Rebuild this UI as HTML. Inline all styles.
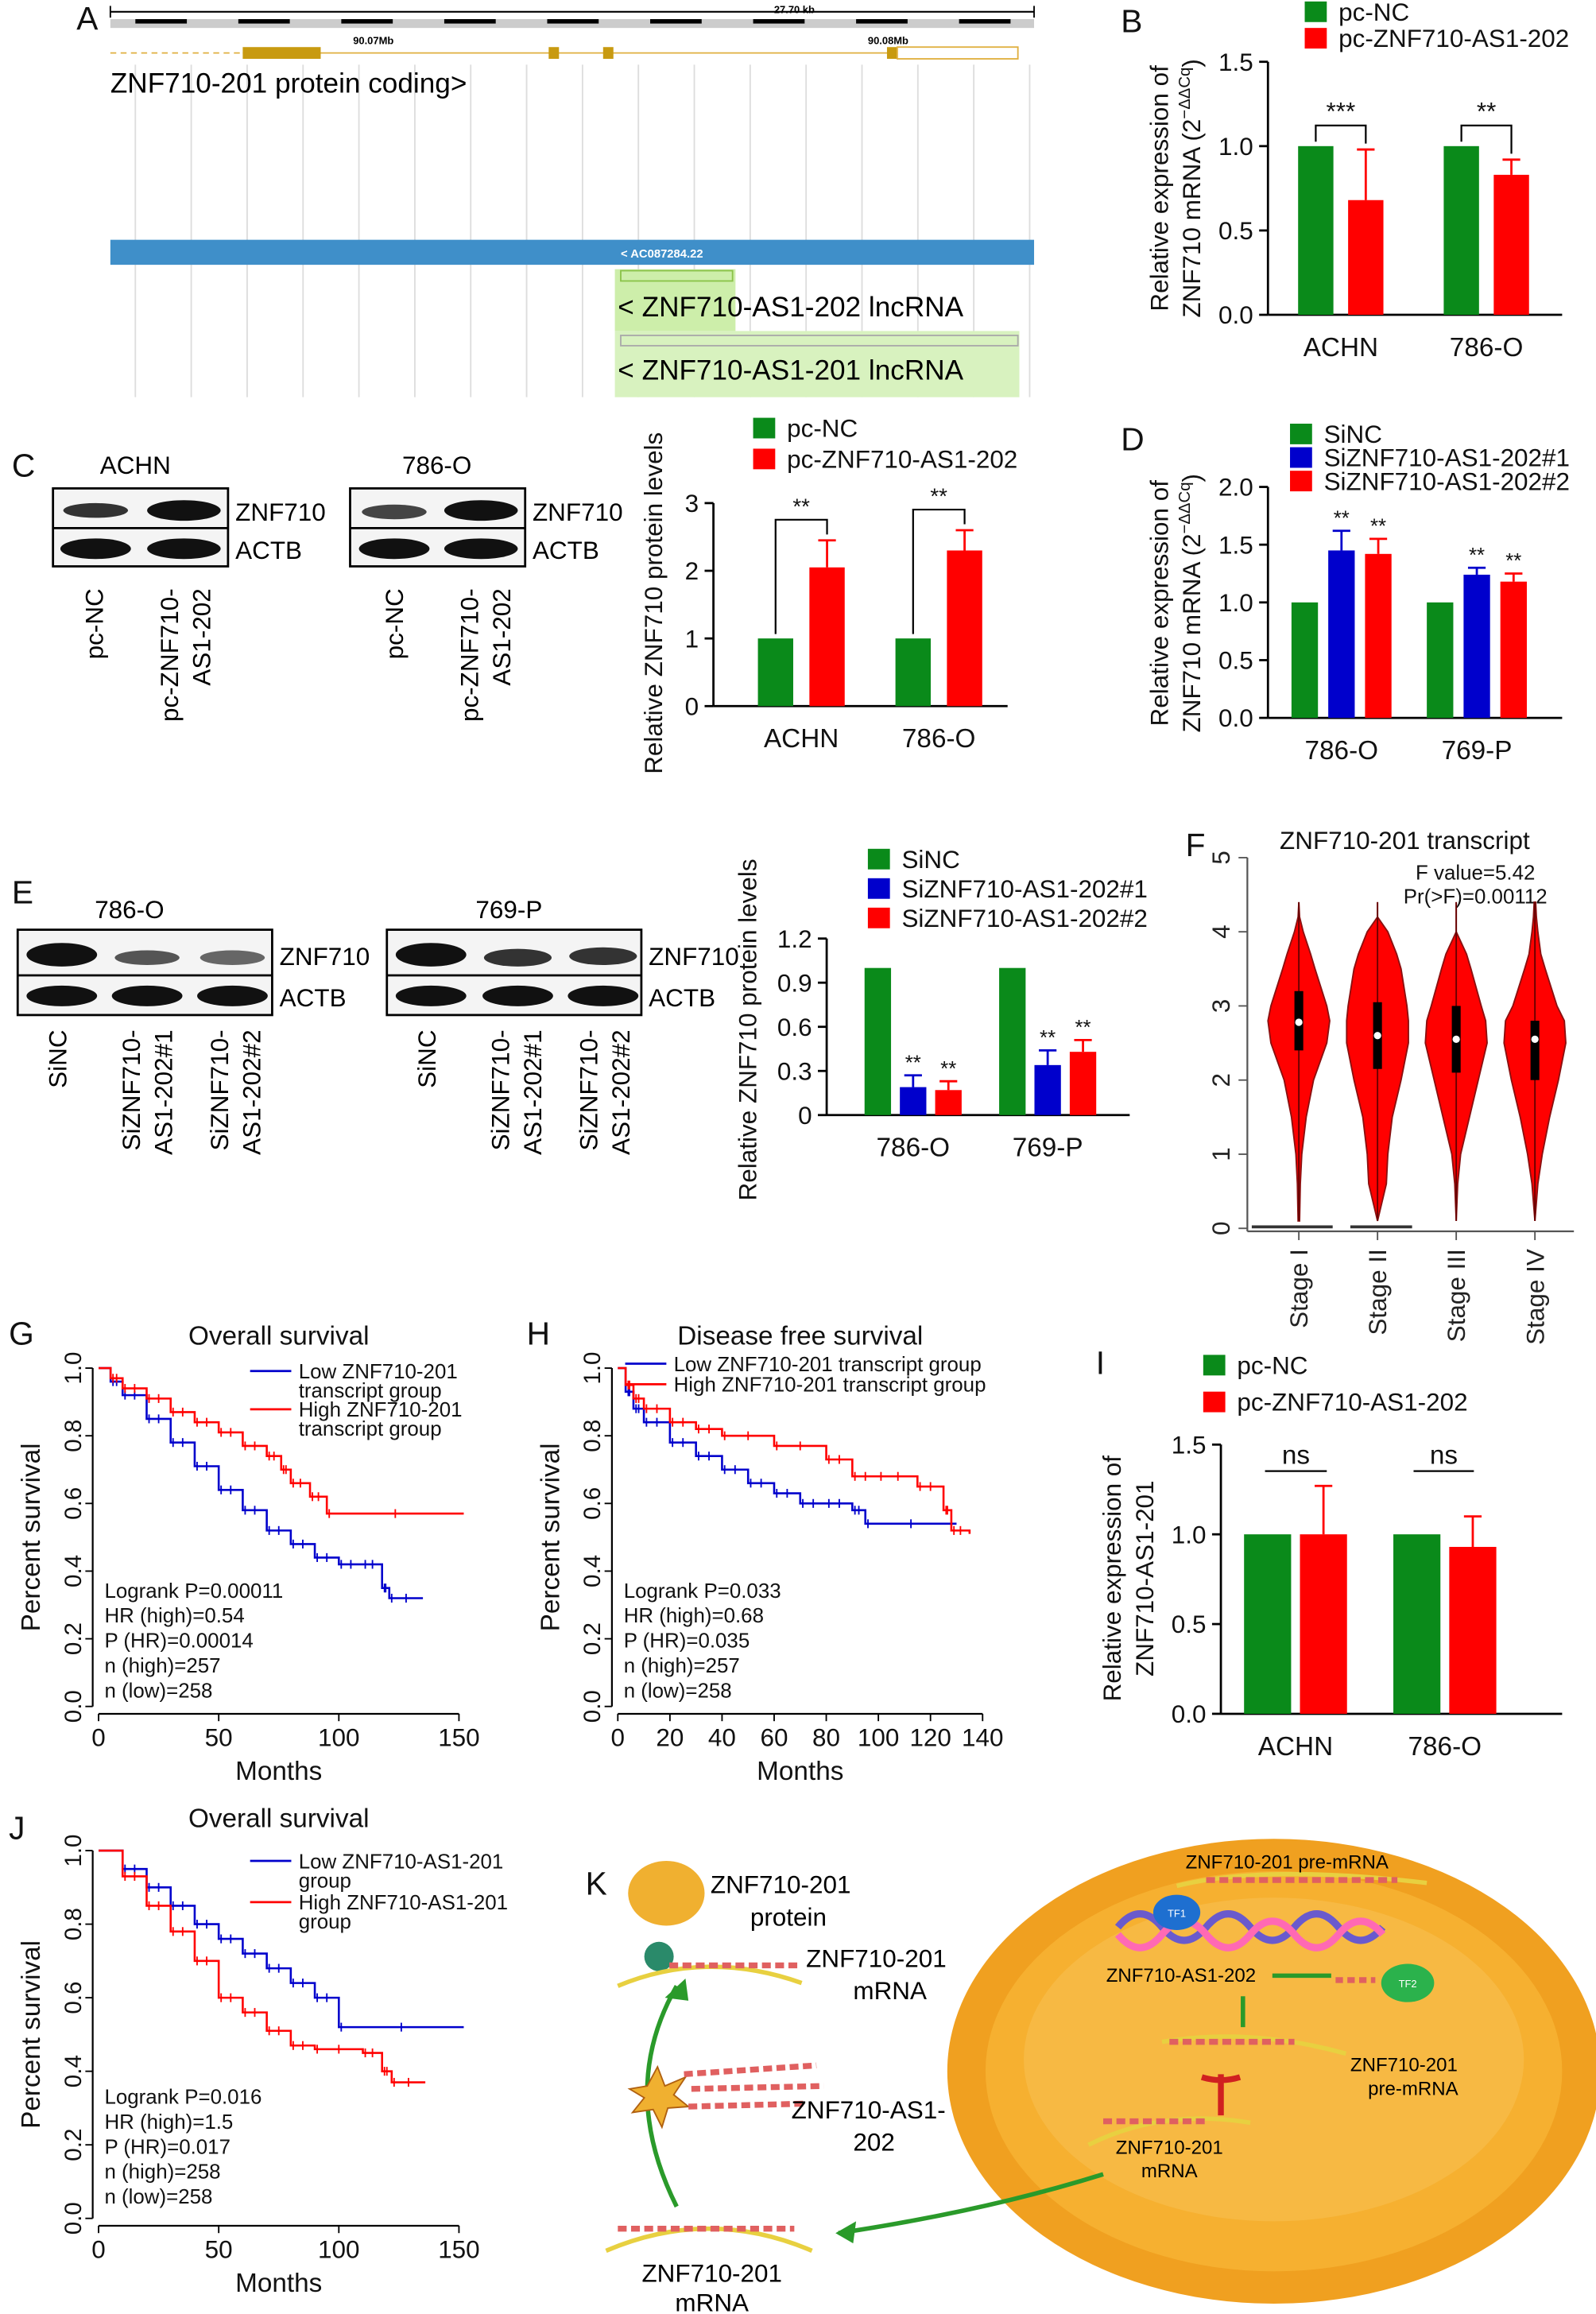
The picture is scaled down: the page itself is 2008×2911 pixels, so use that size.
<!DOCTYPE html>
<html><head><meta charset="utf-8">
<style>
html,body{margin:0;padding:0;background:#fff;}
svg{display:block;font-family:"Liberation Sans",Arial,sans-serif;}
</style></head>
<body>
<svg id="fig" xmlns="http://www.w3.org/2000/svg" width="2008" height="2911" viewBox="0 0 1085 1573">
<rect width="1085" height="1573" fill="#fff"/>
<g font-size="22" fill="#111">
<text x="52" y="20">A</text><text x="762" y="22">B</text><text x="8" y="324">C</text>
<text x="762" y="306">D</text><text x="8" y="614">E</text><text x="806" y="582">F</text>
<text x="6" y="914">G</text><text x="358" y="914">H</text><text x="745" y="934">I</text>
<text x="6" y="1250">J</text><text x="398" y="1288">K</text>
</g>

<g id="panelA">
<line x1="75" y1="8" x2="703" y2="8" stroke="#000" stroke-width="1.2"/>
<line x1="75" y1="4" x2="75" y2="12" stroke="#000"/><line x1="703" y1="4" x2="703" y2="12" stroke="#000"/>
<text x="540" y="9" font-size="7" text-anchor="middle" font-weight="bold">27.70 kb</text>
<rect x="75" y="13" width="628" height="6" fill="#ccc"/>
<g id="rulerSegs"></g>
<text x="240" y="30" font-size="7" font-weight="bold">90.07Mb</text>
<text x="590" y="30" font-size="7" font-weight="bold">90.08Mb</text>
<g id="gridA"></g>
<line x1="75" y1="36" x2="165" y2="36" stroke="#e0b040" stroke-dasharray="4,3"/>
<line x1="165" y1="36" x2="690" y2="36" stroke="#e0b040"/>
<rect x="165" y="32" width="53" height="8" fill="#c89a10"/>
<rect x="373" y="32" width="7" height="8" fill="#c89a10"/>
<rect x="410" y="32" width="7" height="8" fill="#c89a10"/>
<rect x="603" y="32" width="7" height="8" fill="#c89a10"/>
<rect x="610" y="32" width="82" height="8" fill="#fff" stroke="#e0b040"/>
<text x="75" y="63" font-size="19">ZNF710-201 protein coding&gt;</text>
<rect x="75" y="163" width="628" height="17" fill="#3f8fc9"/>
<text x="450" y="175" font-size="8" fill="#fff" text-anchor="middle" font-weight="bold">&lt; AC087284.22</text>
<rect x="418" y="183" width="82" height="42" fill="#cdeeaa"/>
<rect x="418" y="225" width="275" height="45" fill="#d8f2bf"/>
<rect x="422" y="184" width="76" height="7" fill="none" stroke="#8bc34a"/>
<rect x="422" y="228" width="270" height="7" fill="none" stroke="#aaa"/>
<text x="420" y="215" font-size="19">&lt; ZNF710-AS1-202 lncRNA</text>
<text x="420" y="258" font-size="19">&lt; ZNF710-AS1-201 lncRNA</text>
</g>

<g id="blotC" font-size="17">
<text x="92" y="322" text-anchor="middle">ACHN</text>
<text x="297" y="322" text-anchor="middle">786-O</text>
<rect x="36" y="332" width="119" height="53" fill="#f4f4f4" stroke="#000" stroke-width="1.5"/>
<line x1="36" y1="359" x2="155" y2="359" stroke="#000" stroke-width="1.5"/>
<rect x="238" y="332" width="119" height="53" fill="#f4f4f4" stroke="#000" stroke-width="1.5"/>
<line x1="238" y1="359" x2="357" y2="359" stroke="#000" stroke-width="1.5"/>
<ellipse cx="65" cy="347" rx="22" ry="5" fill="#333"/><ellipse cx="125" cy="347" rx="25" ry="7" fill="#111"/>
<ellipse cx="65" cy="373" rx="24" ry="7" fill="#111"/><ellipse cx="125" cy="373" rx="25" ry="7" fill="#111"/>
<ellipse cx="268" cy="348" rx="22" ry="5" fill="#444"/><ellipse cx="327" cy="347" rx="25" ry="7" fill="#111"/>
<ellipse cx="268" cy="373" rx="24" ry="7" fill="#111"/><ellipse cx="327" cy="373" rx="25" ry="7" fill="#111"/>
<text x="160" y="354">ZNF710</text><text x="160" y="380">ACTB</text>
<text x="362" y="354">ZNF710</text><text x="362" y="380">ACTB</text>
<text transform="translate(70,400) rotate(-90)" text-anchor="end">pc-NC</text>
<text transform="translate(121,400) rotate(-90)" text-anchor="end">pc-ZNF710-</text>
<text transform="translate(143,400) rotate(-90)" text-anchor="end">AS1-202</text>
<text transform="translate(274,400) rotate(-90)" text-anchor="end">pc-NC</text>
<text transform="translate(325,400) rotate(-90)" text-anchor="end">pc-ZNF710-</text>
<text transform="translate(347,400) rotate(-90)" text-anchor="end">AS1-202</text>
</g>

<g id="blotE" font-size="17">
<text x="88" y="624" text-anchor="middle">786-O</text>
<text x="346" y="624" text-anchor="middle">769-P</text>
<rect x="12" y="632" width="173" height="58" fill="#f4f4f4" stroke="#000" stroke-width="1.5"/>
<line x1="12" y1="663" x2="185" y2="663" stroke="#000" stroke-width="1.5"/>
<rect x="263" y="632" width="173" height="58" fill="#f4f4f4" stroke="#000" stroke-width="1.5"/>
<line x1="263" y1="663" x2="436" y2="663" stroke="#000" stroke-width="1.5"/>
<ellipse cx="42" cy="649" rx="24" ry="8" fill="#111"/><ellipse cx="100" cy="651" rx="22" ry="5" fill="#555"/><ellipse cx="158" cy="651" rx="22" ry="5" fill="#666"/>
<ellipse cx="42" cy="677" rx="24" ry="7" fill="#111"/><ellipse cx="100" cy="677" rx="24" ry="7" fill="#111"/><ellipse cx="158" cy="677" rx="24" ry="7" fill="#111"/>
<ellipse cx="293" cy="649" rx="24" ry="8" fill="#111"/><ellipse cx="352" cy="651" rx="23" ry="6" fill="#333"/><ellipse cx="410" cy="650" rx="23" ry="6" fill="#333"/>
<ellipse cx="293" cy="677" rx="24" ry="7" fill="#111"/><ellipse cx="352" cy="677" rx="24" ry="7" fill="#111"/><ellipse cx="410" cy="677" rx="24" ry="7" fill="#111"/>
<text x="190" y="656">ZNF710</text><text x="190" y="684">ACTB</text>
<text x="441" y="656">ZNF710</text><text x="441" y="684">ACTB</text>
<text transform="translate(45,700) rotate(-90)" text-anchor="end">SiNC</text>
<text transform="translate(95,700) rotate(-90)" text-anchor="end">SiZNF710-</text>
<text transform="translate(117,700) rotate(-90)" text-anchor="end">AS1-202#1</text>
<text transform="translate(155,700) rotate(-90)" text-anchor="end">SiZNF710-</text>
<text transform="translate(177,700) rotate(-90)" text-anchor="end">AS1-202#2</text>
<text transform="translate(296,700) rotate(-90)" text-anchor="end">SiNC</text>
<text transform="translate(346,700) rotate(-90)" text-anchor="end">SiZNF710-</text>
<text transform="translate(368,700) rotate(-90)" text-anchor="end">AS1-202#1</text>
<text transform="translate(406,700) rotate(-90)" text-anchor="end">SiZNF710-</text>
<text transform="translate(428,700) rotate(-90)" text-anchor="end">AS1-202#2</text>
</g>

<g id="panelK">
<ellipse cx="866" cy="1408" rx="222" ry="158" fill="#f0a020"/>
<ellipse cx="866" cy="1408" rx="196" ry="136" fill="#f6b030"/>
<ellipse cx="866" cy="1400" rx="170" ry="110" fill="#f8c050" opacity="0.6"/>
<path d="M760,1310 q15,-18 30,0 t30,0 t30,0 t30,0 t30,0 t30,0" fill="none" stroke="#6a5acd" stroke-width="5"/>
<path d="M760,1315 q15,18 30,0 t30,0 t30,0 t30,0 t30,0 t30,0" fill="none" stroke="#ff69b4" stroke-width="5"/>
<ellipse cx="800" cy="1300" rx="16" ry="12" fill="#1e6fd0"/>
<ellipse cx="957" cy="1348" rx="18" ry="13" fill="#2bb24c"/>
<text x="800" y="1303" font-size="7" fill="#fff" text-anchor="middle">TF1</text>
<text x="957" y="1351" font-size="7" fill="#fff" text-anchor="middle">TF2</text>
<path d="M800,1282 q60,-15 170,-2" fill="none" stroke="#e8d040" stroke-width="3"/>
<line x1="820" y1="1278" x2="950" y2="1278" stroke="#e06060" stroke-width="4" stroke-dasharray="6,3"/>
<text x="806" y="1270" font-size="13">ZNF710-201 pre-mRNA</text>
<text x="752" y="1347" font-size="13">ZNF710-AS1-202</text>
<line x1="865" y1="1343" x2="905" y2="1343" stroke="#2a9a2a" stroke-width="3"/>
<line x1="908" y1="1346" x2="935" y2="1346" stroke="#e06060" stroke-width="4" stroke-dasharray="5,3"/>
<line x1="845" y1="1357" x2="845" y2="1378" stroke="#2a9a2a" stroke-width="3"/>
<path d="M790,1388 q60,-10 125,8" fill="none" stroke="#e8d040" stroke-width="3"/>
<line x1="795" y1="1388" x2="880" y2="1388" stroke="#e06060" stroke-width="4" stroke-dasharray="6,3"/>
<text x="918" y="1408" font-size="13">ZNF710-201</text><text x="930" y="1424" font-size="13">pre-mRNA</text>
<path d="M830,1410 v28 M817,1412 q13,4 26,0" stroke="#d02020" stroke-width="4" fill="none"/>
<path d="M740,1458 q50,-25 110,-15" fill="none" stroke="#e8d040" stroke-width="3"/>
<line x1="750" y1="1442" x2="820" y2="1442" stroke="#e06060" stroke-width="4" stroke-dasharray="6,3"/>
<text x="795" y="1464" font-size="13" text-anchor="middle">ZNF710-201</text><text x="795" y="1480" font-size="13" text-anchor="middle">mRNA</text>
<path d="M750,1478 q-80,25 -180,40" fill="none" stroke="#2a9a2a" stroke-width="3"/>
<polygon points="568,1518 582,1510 580,1525" fill="#2a9a2a"/>
<path d="M412,1530 q70,-30 140,0" fill="none" stroke="#e8d040" stroke-width="3"/>
<line x1="420" y1="1515" x2="540" y2="1515" stroke="#e06060" stroke-width="4" stroke-dasharray="6,3"/>
<text x="484" y="1551" font-size="17" text-anchor="middle">ZNF710-201</text><text x="484" y="1571" font-size="17" text-anchor="middle">mRNA</text>
<path d="M460,1500 q-40,-80 0,-150" fill="none" stroke="#2a9a2a" stroke-width="3"/>
<polygon points="466,1345 452,1358 468,1360" fill="#2a9a2a"/>
<ellipse cx="453" cy="1287" rx="26" ry="22" fill="#f0b030"/>
<circle cx="448" cy="1330" r="10" fill="#2a8a6a"/>
<path d="M420,1350 q60,-25 125,-2" fill="none" stroke="#e8d040" stroke-width="3"/>
<line x1="455" y1="1336" x2="545" y2="1336" stroke="#e06060" stroke-width="4" stroke-dasharray="6,3"/>
<text x="483" y="1287" font-size="17">ZNF710-201</text><text x="510" y="1309" font-size="17">protein</text>
<text x="548" y="1337" font-size="17">ZNF710-201</text><text x="580" y="1359" font-size="17">mRNA</text>
<polygon points="440,1418 447,1405 452,1418 466,1412 458,1424 468,1432 454,1433 450,1446 444,1434 430,1436 438,1426 428,1420" fill="#f0b030" stroke="#b06010"/>
<g stroke-width="4" stroke-dasharray="6,3" stroke="#e06060"><line x1="465" y1="1410" x2="555" y2="1404"/><line x1="470" y1="1420" x2="560" y2="1418"/><line x1="468" y1="1432" x2="548" y2="1430"/></g>
<text x="538" y="1440" font-size="17">ZNF710-AS1-</text><text x="580" y="1462" font-size="17">202</text>
</g>

<g id="charts"></g>
</svg>
<script>
const catsB = ["ACHN","786-O"];
const b_pcNC = [1.0, 1.0];
const b_pcAS = [0.68, 0.83];
const b_sdNC = [0, 0];
const b_sdAS = [0.30, 0.09];

const catsC = ["ACHN","786-O"];
const c_pcNC = [1.0, 1.0];
const c_pcAS = [2.05, 2.3];
const c_sdNC = [0, 0];
const c_sdAS = [0.40, 0.30];

const catsD = ["786-O","769-P"];
const d_siNC = [1.0, 1.0];
const d_si1 = [1.45, 1.24];
const d_si2 = [1.42, 1.18];
const d_sd1 = [0.17, 0.06];
const d_sd2 = [0.13, 0.07];

const catsE = ["786-O","769-P"];
const e_siNC = [1.0, 1.0];
const e_si1 = [0.19, 0.34];
const e_si2 = [0.17, 0.43];
const e_sd1 = [0.08, 0.10];
const e_sd2 = [0.06, 0.08];

const catsI = ["ACHN","786-O"];
const i_pcNC = [1.0, 1.0];
const i_pcAS = [1.0, 0.93];
const i_sdNC = [0, 0];
const i_sdAS = [0.27, 0.17];

const ticksB = [0,0.5,1.0,1.5];
const ticksC = [0,1,2,3];
const ticksD = [0,0.5,1.0,1.5,2.0];
const ticksE = [0,0.3,0.6,0.9,1.2];
const ticksI = [0,0.5,1.0,1.5];

const stagesF = ["Stage I","Stage II","Stage III","Stage IV"];
const violinLevels = [0.1,0.6,1.0,1.5,2.0,2.5,2.8,3.0,3.5,3.7,4.0,4.2,4.4];
const violinI   = [0.5,1,2,5,10,19,21,19,11,8,3,0.5,0];
const violinII  = [0,6,7,10,16,21,21,20,16,13,7,0,0];
const violinIII = [0,1,3,9,15,21,20,17,10,7,0,0,0];
const violinIV  = [0,2,5,10,16,21,20,15,7,4,2,1,0.5];
const medianF = [2.78, 2.6, 2.55, 2.55];
const q1F = [2.4, 2.15, 2.1, 2.0];
const q3F = [3.2, 3.05, 3.0, 2.8];
const ticksF = [0,1,2,3,4,5];

const g_lowT = [0,5,10,20,30,40,50,60,70,80,90,100,110,118,121,135];
const g_lowS = [1,0.96,0.92,0.85,0.78,0.71,0.64,0.58,0.52,0.48,0.44,0.42,0.42,0.35,0.32,0.32];
const g_highT = [0,5,10,20,30,40,50,60,70,76,80,88,95,152];
const g_highS = [1,0.97,0.94,0.91,0.87,0.84,0.81,0.77,0.74,0.70,0.66,0.62,0.57,0.57];
const h_lowT = [0,3,6,10,20,30,40,50,60,70,80,90,95,130];
const h_lowS = [1,0.93,0.88,0.84,0.78,0.74,0.70,0.66,0.63,0.60,0.60,0.58,0.54,0.54];
const h_highT = [0,3,6,10,20,30,40,60,80,90,100,115,125,128,135];
const h_highS = [1,0.95,0.91,0.88,0.84,0.82,0.80,0.77,0.73,0.68,0.68,0.65,0.58,0.52,0.51];
const j_lowT = [0,10,20,30,40,50,60,70,80,90,100,152];
const j_lowS = [1,0.95,0.90,0.85,0.80,0.76,0.72,0.68,0.64,0.60,0.52,0.52];
const j_highT = [0,10,20,30,40,50,60,70,80,90,110,118,122,136];
const j_highS = [1,0.93,0.85,0.78,0.70,0.60,0.56,0.51,0.47,0.46,0.45,0.40,0.37,0.37];

const GREEN="#0a8a1a", RED="#ff0000", BLUE="#0000cc";
const NS="http://www.w3.org/2000/svg";
const root=document.getElementById('charts');
function mk(tag, attrs, parent){const e=document.createElementNS(NS,tag);for(const k in attrs)e.setAttribute(k,attrs[k]);(parent||root).appendChild(e);return e;}
function txt(x,y,s,size,anchor,parent,extra){const t=mk('text',Object.assign({x:x,y:y,'font-size':size,'text-anchor':anchor||'start',fill:'#111'},extra||{}),parent);t.textContent=s;return t;}

(function(){
  const rs=document.getElementById('rulerSegs');
  for(let i=0;i<9;i++){mk('rect',{x:92+i*70,y:13,width:35,height:3,fill:'#000'},rs);}
  const g=document.getElementById('gridA');
  for(let i=0;i<17;i++){mk('line',{x1:92+i*38,y1:44,x2:92+i*38,y2:270,stroke:'#ddd','stroke-width':1},g);}
})();

function barChart(o){
  const g=mk('g',{});
  
  
  const ys=v=>o.yb-(v-o.ymin)/(o.ymax-o.ymin)*(o.yb-o.yt);
  const n=o.cats.length;
  const cx=i=>o.x0+(i+0.5)*(o.x1-o.x0)/n;
  mk('line',{x1:o.ax,y1:ys(o.ticks[0]),x2:o.ax,y2:ys(o.ticks[o.ticks.length-1]),stroke:'#000','stroke-width':1.5},g);
  mk('line',{x1:o.ax,y1:o.yb,x2:o.axEnd,y2:o.yb,stroke:'#000','stroke-width':1.5},g);
  o.ticks.forEach((t,k)=>{
    mk('line',{x1:o.ax-6,y1:ys(t),x2:o.ax,y2:ys(t),stroke:'#000','stroke-width':1.5},g);
    const lab=txt(o.ax-10,ys(t)+6,o.tickLabels[k],17,'end',g);
    
    
  });
  const ns=o.series.length;
  o.cats.forEach((c,i)=>{
    const l=txt(cx(i),o.yb+28,c,18,'middle',g);
    
    
    o.series.forEach((s,j)=>{
      const xc=cx(i)+(j-(ns-1)/2)*o.step;
      const v=s.vals[i];
      const r=mk('rect',{x:xc-o.bw/2,y:ys(v),width:o.bw,height:o.yb-ys(v),fill:s.color},g);
      
      
      if(s.sd && s.sd[i]>0){
        const top=ys(v+s.sd[i]);
        mk('line',{x1:xc,y1:ys(v),x2:xc,y2:top,stroke:s.color,'stroke-width':1.5},g);
        mk('line',{x1:xc-6,y1:top,x2:xc+6,y2:top,stroke:s.color,'stroke-width':1.5},g);
      }
      if(s.star){txt(xc,ys(v+(s.sd?s.sd[i]:0))-4,s.star,14,'middle',g);}
    });
    if(o.bracket){
      const xa=cx(i)-o.step/2, xb=cx(i)+o.step/2;
      const top=Math.min(ys(o.series[0].vals[i]),ys(o.series[1].vals[i]+(o.series[1].sd?o.series[1].sd[i]:0)))-o.bracketGap;
      mk('path',{d:`M${xa},${ys(o.series[0].vals[i])-3} V${top} H${xb} V${ys(o.series[1].vals[i]+o.series[1].sd[i])-4}`,fill:'none',stroke:'#000','stroke-width':1.2},g);
      txt((xa+xb)/2,top-4,o.bracket[i],o.bracketSize||17,'middle',g);
    }
  });
  o.legend.forEach((L,k)=>{
    const r=mk('rect',{x:o.lx,y:o.ly+k*o.lstep-13,width:15,height:14,fill:L[1]},g);
    
    
    const t=txt(o.lx+23,o.ly+k*o.lstep,L[0],17,'start',g);
    
    
  });
  o.ytitle.forEach((line,k)=>{
    const t=mk('text',{transform:`translate(${o.tx+k*22},${o.tcy}) rotate(-90)`,'font-size':17,'text-anchor':'middle',fill:'#111'},g);
    t.innerHTML=line;
    
    
  });
}

const ddcq='ZNF710 mRNA (2<tspan dy="-7" font-size="11">−ΔΔCq</tspan><tspan dy="7">)</tspan>';
barChart({name:'chart-b',cats:catsB,x0:862,x1:1060,ax:862,axEnd:1062,yb:214,yt:42,ymin:0,ymax:1.5,ticks:ticksB,tickLabels:ticksB.map(v=>v.toFixed(1)),
  bw:24,step:34,series:[{key:'pc-nc',vals:b_pcNC,sd:b_sdNC,color:GREEN},{key:'pc-as1-202',vals:b_pcAS,sd:b_sdAS,color:RED}],
  bracket:['***','**'],bracketGap:14,legend:[['pc-NC',GREEN],['pc-ZNF710-AS1-202',RED]],lx:887,ly:14,lstep:18,
  ytitle:['Relative expression of',ddcq],tx:794,tcy:128});
barChart({name:'chart-c',cats:catsC,x0:498,x1:685,ax:485,axEnd:685,yb:480,yt:342,ymin:0,ymax:3,ticks:ticksC,tickLabels:ticksC.map(String),
  bw:24,step:35,series:[{key:'pc-nc',vals:c_pcNC,sd:c_sdNC,color:GREEN},{key:'pc-as1-202',vals:c_pcAS,sd:c_sdAS,color:RED}],
  bracket:['**','**'],bracketGap:14,bracketSize:15,legend:[['pc-NC',GREEN],['pc-ZNF710-AS1-202',RED]],lx:512,ly:297,lstep:21,
  ytitle:['Relative ZNF710 protein levels'],tx:450,tcy:410});
barChart({name:'chart-d',cats:catsD,x0:866,x1:1050,ax:862,axEnd:1062,yb:488,yt:331,ymin:0,ymax:2,ticks:ticksD,tickLabels:ticksD.map(v=>v.toFixed(1)),
  bw:18,step:25,series:[{key:'sinc',vals:d_siNC,color:GREEN},{key:'si1',vals:d_si1,sd:d_sd1,color:BLUE,star:'**'},{key:'si2',vals:d_si2,sd:d_sd2,color:RED,star:'**'}],
  legend:[['SiNC',GREEN],['SiZNF710-AS1-202#1',BLUE],['SiZNF710-AS1-202#2',RED]],lx:877,ly:301,lstep:16,
  ytitle:['Relative expression of',ddcq],tx:794,tcy:410});
barChart({name:'chart-e',cats:catsE,x0:575,x1:758,ax:562,axEnd:768,yb:758,yt:638,ymin:0,ymax:1.2,ticks:ticksE,tickLabels:ticksE.map(v=>v===0?'0':v.toFixed(1)),
  bw:18,step:24,series:[{key:'sinc',vals:e_siNC,color:GREEN},{key:'si1',vals:e_si1,sd:e_sd1,color:BLUE,star:'**'},{key:'si2',vals:e_si2,sd:e_sd2,color:RED,star:'**'}],
  legend:[['SiNC',GREEN],['SiZNF710-AS1-202#1',BLUE],['SiZNF710-AS1-202#2',RED]],lx:590,ly:590,lstep:20,
  ytitle:['Relative ZNF710 protein levels'],tx:514,tcy:700});
barChart({name:'chart-i',cats:catsI,x0:830,x1:1033,ax:830,axEnd:1062,yb:1165,yt:982,ymin:0,ymax:1.5,ticks:ticksI,tickLabels:ticksI.map(v=>v.toFixed(1)),
  bw:32,step:38,series:[{key:'pc-nc',vals:i_pcNC,sd:i_sdNC,color:GREEN},{key:'pc-as1-202',vals:i_pcAS,sd:i_sdAS,color:RED}],
  legend:[['pc-NC',GREEN],['pc-ZNF710-AS1-202',RED]],lx:818,ly:934,lstep:25,
  ytitle:['Relative expression of','ZNF710-AS1-201'],tx:762,tcy:1073});
(function(){const g=mk('g',{});


[[862,900],[963,1000]].forEach(p=>{mk('line',{x1:p[0]-2,y1:1000,x2:p[1]+2,y2:1000,stroke:'#000','stroke-width':1.2},g);txt((p[0]+p[1])/2,995,'ns',18,'middle',g);});})();

(function(){
  const g=mk('g',{});
  
  
  const ax=848, yb=835, yt=583, x1=1070;
  const ys=v=>yb-v/5*(yb-yt);
  const cx=i=>883+i*53.5;
  txt(955,577,'ZNF710-201 transcript',17,'middle',g);
  mk('line',{x1:ax,y1:yt,x2:ax,y2:yb+2,stroke:'#555','stroke-width':1.2},g);
  mk('line',{x1:ax,y1:yb+2,x2:x1,y2:yb+2,stroke:'#555','stroke-width':1.2},g);
  ticksF.forEach(t=>{mk('line',{x1:ax-6,y1:ys(t),x2:ax,y2:ys(t),stroke:'#555'},g);
    const l=mk('text',{transform:`translate(${ax-12},${ys(t)}) rotate(-90)`,'font-size':17,'text-anchor':'middle',fill:'#222'},g);l.textContent=t;});
  txt(1003,598,'F value=5.42',14,'middle',g);
  txt(1003,614,'Pr(>F)=0.00112',14,'middle',g);
  const sets=[violinI,violinII,violinIII,violinIV];
  stagesF.forEach((s,i)=>{
    const c=cx(i), w=sets[i];
    let pts=[];
    violinLevels.forEach((lv,k)=>pts.push([c+w[k],ys(lv)]));
    for(let k=violinLevels.length-1;k>=0;k--)pts.push([c-w[k],ys(violinLevels[k])]);
    const v=mk('polygon',{points:pts.map(p=>p.join(',')).join(' '),fill:'#ff0000',stroke:'#8a1010','stroke-width':1},g);
    
    
    mk('line',{x1:c,y1:ys(violinLevels[0]),x2:c,y2:ys(violinLevels[violinLevels.length-1]),stroke:'#600','stroke-width':1},g);
    mk('rect',{x:c-3,y:ys(q3F[i]),width:6,height:ys(q1F[i])-ys(q3F[i]),fill:'#000'},g);
    mk('circle',{cx:c,cy:ys(medianF[i]),r:2.5,fill:'#fff'},g);
    mk('line',{x1:c,y1:yb+2,x2:c,y2:yb+8,stroke:'#555'},g);
    const l=mk('text',{transform:`translate(${c+6},${yb+14}) rotate(-90)`,'font-size':17,'text-anchor':'end',fill:'#222'},g);l.textContent=s;
  });
  mk('line',{x1:851,y1:yb-1,x2:906,y2:yb-1,stroke:'#333','stroke-width':2},g);
  mk('line',{x1:918,y1:yb-1,x2:960,y2:yb-1,stroke:'#333','stroke-width':2},g);
})();

function km(o){
  const g=mk('g',{});
  
  
  const xs=t=>o.x0+(t-o.tmin)/(o.tmax-o.tmin)*(o.x1-o.x0);
  const ys=v=>o.yb-v*(o.yb-o.yt);
  txt((o.x0+o.x1)/2,o.yt-16,o.title,18,'middle',g);
  mk('line',{x1:o.x0-4,y1:o.yt,x2:o.x0-4,y2:o.yb,stroke:'#000','stroke-width':1.2},g);
  mk('line',{x1:o.x0,y1:o.yb+5,x2:o.x1,y2:o.yb+5,stroke:'#000','stroke-width':1.2},g);
  [0,0.2,0.4,0.6,0.8,1.0].forEach(v=>{mk('line',{x1:o.x0-9,y1:ys(v),x2:o.x0-4,y2:ys(v),stroke:'#000'},g);
    const l=mk('text',{transform:`translate(${o.x0-12},${ys(v)}) rotate(-90)`,'font-size':16,'text-anchor':'middle',fill:'#111'},g);l.textContent=v.toFixed(1);});
  o.xt.forEach(t=>{mk('line',{x1:xs(t),y1:o.yb+5,x2:xs(t),y2:o.yb+10,stroke:'#000'},g);txt(xs(t),o.yb+27,String(t),17,'middle',g);});
  txt((o.x0+o.x1)/2,o.yb+50,'Months',18,'middle',g);
  const yt=mk('text',{transform:`translate(${o.x0-40},${(o.yt+o.yb)/2}) rotate(-90)`,'font-size':18,'text-anchor':'middle',fill:'#111'},g);yt.textContent='Percent survival';
  o.curves.forEach(c=>{
    let d=`M${xs(c.t[0])},${ys(c.s[0])}`;
    for(let k=1;k<c.t.length;k++){d+=` H${xs(c.t[k])} V${ys(c.s[k])}`;}
    const p=mk('path',{d:d,fill:'none',stroke:c.color,'stroke-width':1.4},g);
    
    
    for(let k=1;k<c.t.length-1;k++){
      const tm=(c.t[k]+c.t[k+1])/2;
      [c.t[k]+1,tm].forEach(tt=>mk('line',{x1:xs(tt),y1:ys(c.s[k])-3,x2:xs(tt),y2:ys(c.s[k])+3,stroke:c.color,'stroke-width':1},g));
    }
  });
  o.legend.forEach((L,k)=>{
    mk('line',{x1:o.lx,y1:o.ly+k*o.lstep-5,x2:o.lx+28,y2:o.ly+k*o.lstep-5,stroke:L[1],'stroke-width':1.5},g);
    L[0].forEach((s,m)=>txt(o.lx+33,o.ly+k*o.lstep+m*13,s,14,'start',g));
  });
  o.stats.forEach((s,k)=>txt(o.x0+4,o.sy+k*17,s,14,'start',g));
}
km({name:'km-g-overall-survival',title:'Overall survival',x0:67,x1:312,tmin:0,tmax:150,yb:1160,yt:930,xt:[0,50,100,150],
  curves:[{key:'curve-low-znf710-201',t:g_lowT,s:g_lowS,color:BLUE},{key:'curve-high-znf710-201',t:g_highT,s:g_highS,color:RED}],
  legend:[[['Low ZNF710-201','transcript group'],BLUE],[['High ZNF710-201','transcript group'],RED]],lx:170,ly:937,lstep:26,
  stats:['Logrank P=0.00011','HR (high)=0.54','P (HR)=0.00014','n (high)=257','n (low)=258'],sy:1086});
km({name:'km-h-disease-free-survival',title:'Disease free survival',x0:420,x1:668,tmin:0,tmax:140,yb:1160,yt:930,xt:[0,20,40,60,80,100,120,140],
  curves:[{key:'curve-low-znf710-201',t:h_lowT,s:h_lowS,color:BLUE},{key:'curve-high-znf710-201',t:h_highT,s:h_highS,color:RED}],
  legend:[[['Low ZNF710-201 transcript group'],BLUE],[['High ZNF710-201 transcript group'],RED]],lx:425,ly:932,lstep:14,
  stats:['Logrank P=0.033','HR (high)=0.68','P (HR)=0.035','n (high)=257','n (low)=258'],sy:1086});
km({name:'km-j-overall-survival',title:'Overall survival',x0:67,x1:312,tmin:0,tmax:150,yb:1508,yt:1258,xt:[0,50,100,150],
  curves:[{key:'curve-low-znf710-as1-201',t:j_lowT,s:j_lowS,color:BLUE},{key:'curve-high-znf710-as1-201',t:j_highT,s:j_highS,color:RED}],
  legend:[[['Low ZNF710-AS1-201','group'],BLUE],[['High ZNF710-AS1-201','group'],RED]],lx:170,ly:1270,lstep:28,
  stats:['Logrank P=0.016','HR (high)=1.5','P (HR)=0.017','n (high)=258','n (low)=258'],sy:1430});
</script>
</body></html>
